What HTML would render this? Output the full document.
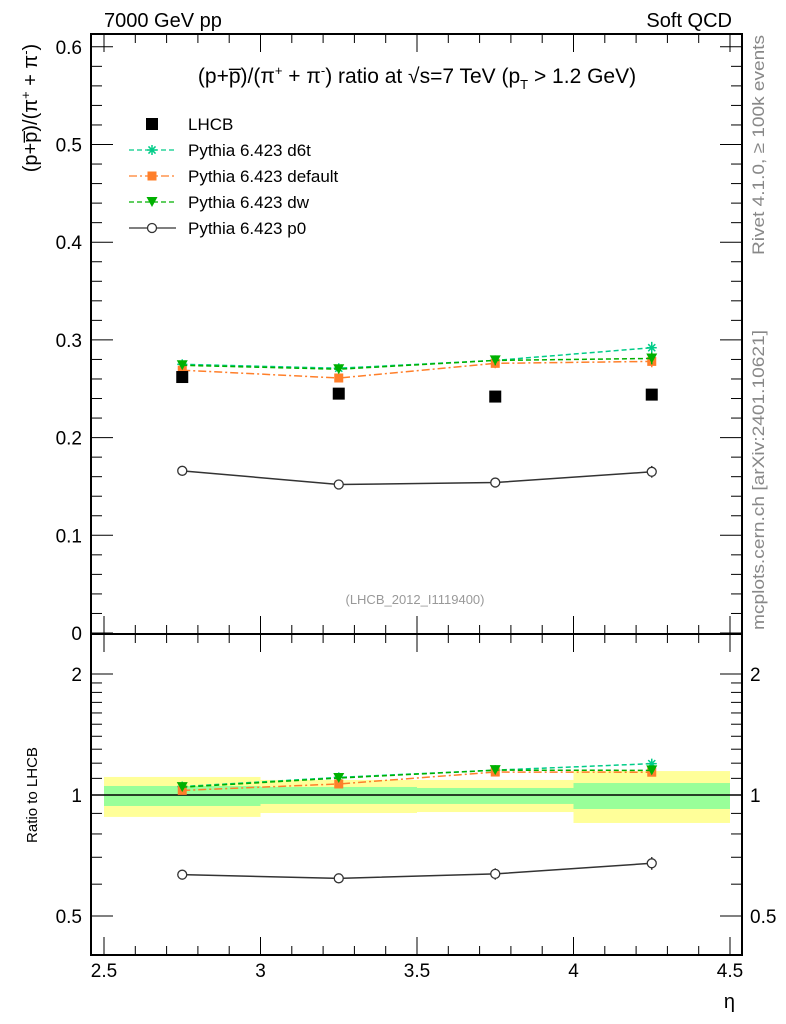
<!DOCTYPE html>
<html><head><meta charset="utf-8"><style>
body{margin:0;background:#fff}
svg{display:block;font-family:"Liberation Sans",sans-serif}
</style></head><body>
<svg id="chart" width="786" height="1024" viewBox="0 0 786 1024">
<text x="104" y="27" font-size="20">7000 GeV pp</text>
<text x="732" y="27" font-size="20" text-anchor="end">Soft QCD</text>
<text transform="translate(764,255) rotate(-90)" font-size="17" fill="#888" textLength="220" lengthAdjust="spacingAndGlyphs">Rivet 4.1.0, ≥ 100k events</text>
<text transform="translate(764,630) rotate(-90)" font-size="17" fill="#888" textLength="300" lengthAdjust="spacingAndGlyphs">mcplots.cern.ch [arXiv:2401.10621]</text>
<text x="417" y="83" font-size="21" text-anchor="middle">(p+p̅)/(π<tspan dy="-8" font-size="13">+</tspan><tspan dy="8"> + π</tspan><tspan dy="-8" font-size="13">-</tspan><tspan dy="8">) ratio at √s=7 TeV (p</tspan><tspan dy="6" font-size="13">T</tspan><tspan dy="-6"> &gt; 1.2 GeV)</tspan></text>
<text transform="translate(37,108) rotate(-90)" font-size="20" text-anchor="middle">(p+p̅)/(π<tspan dy="-7" font-size="13">+</tspan><tspan dy="7"> + π</tspan><tspan dy="-7" font-size="13">-</tspan><tspan dy="7">)</tspan></text>
<text transform="translate(37,795) rotate(-90)" font-size="15" text-anchor="middle">Ratio to LHCB</text>
<text x="735" y="1008" font-size="20" text-anchor="end">η</text>
<text x="415" y="604" font-size="13" fill="#999" text-anchor="middle">(LHCB_2012_I1119400)</text>
<g id="legend"></g>
<g id="g"></g>
</svg>
<script>
const xCenters=[2.75,3.25,3.75,4.25];
const binEdges=[2.5,3,3.5,4,4.5];
const lhcb=[0.262,0.245,0.242,0.244];
const lhcbErr=[0.002,0.002,0.002,0.002];
const d6t=[0.275,0.271,0.279,0.292];
const dflt=[0.269,0.261,0.276,0.278];
const dw=[0.274,0.270,0.279,0.281];
const p0=[0.166,0.152,0.154,0.165];
const mcErr=[0.004,0.004,0.005,0.006];
const bandYellowHi=[1.109,1.090,1.090,1.147];
const bandYellowLo=[0.882,0.902,0.907,0.852];
const bandGreenHi=[1.053,1.047,1.041,1.071];
const bandGreenLo=[0.939,0.950,0.950,0.923];
const xTicks=[2.5,3,3.5,4,4.5];
const yTicks=[0,0.1,0.2,0.3,0.4,0.5,0.6];
const rTicks=[0.5,1,2];

const NS="http://www.w3.org/2000/svg";
const g=document.getElementById('g');
const L=91,R=742,T=34,MB=634,RB=955;
const X=v=>104+(v-2.5)*313;
const Y=v=>633-v*977;
const RY=v=>795-Math.log2(v)*121;
function el(t,a,p){const e=document.createElementNS(NS,t);for(const k in a)e.setAttribute(k,a[k]);(p||g).appendChild(e);return e;}

for(let i=0;i<4;i++){
  const b1=el('rect',{x:X(binEdges[i]),width:X(binEdges[i+1])-X(binEdges[i]),y:RY(bandYellowHi[i]),height:RY(bandYellowLo[i])-RY(bandYellowHi[i]),fill:'#ffff99'});
  
  
  const b2=el('rect',{x:X(binEdges[i]),width:X(binEdges[i+1])-X(binEdges[i]),y:RY(bandGreenHi[i]),height:RY(bandGreenLo[i])-RY(bandGreenHi[i]),fill:'#99ff99'});
  
  
}
el('line',{x1:L,x2:R,y1:RY(1),y2:RY(1),stroke:'#000','stroke-width':1.5});

const f1=el('rect',{x:L,y:T,width:R-L,height:MB-T,fill:'none',stroke:'#000','stroke-width':2});


const f2=el('rect',{x:L,y:MB,width:R-L,height:RB-MB,fill:'none',stroke:'#000','stroke-width':2});



for(let v=2.5;v<=4.501;v+=0.1){
  const major=Math.abs(v*2-Math.round(v*2))<1e-6;
  const len=major?18:9, x=X(v);
  el('line',{x1:x,x2:x,y1:T,y2:T+len,stroke:'#000'});
  el('line',{x1:x,x2:x,y1:MB,y2:MB-len,stroke:'#000'});
  el('line',{x1:x,x2:x,y1:MB,y2:MB+len,stroke:'#000'});
  el('line',{x1:x,x2:x,y1:RB,y2:RB-len,stroke:'#000'});
}
xTicks.forEach(v=>{const t=el('text',{x:X(v),y:977,'font-size':19,'text-anchor':'middle'});t.textContent=String(v);

});

for(let v=0;v<=0.601;v+=0.02){
  const major=Math.abs(v*10-Math.round(v*10))<1e-6;
  const len=major?22:11,y=Y(v);
  el('line',{x1:L,x2:L+len,y1:y,y2:y,stroke:'#000'});
  el('line',{x1:R,x2:R-len,y1:y,y2:y,stroke:'#000'});
}
yTicks.forEach(v=>{const t=el('text',{x:82,y:Y(v)+7,'font-size':19,'text-anchor':'end'});t.textContent=v===0?'0':String(v);

});

const minors=[0.4,0.5,0.6,0.7,0.8,0.9,1,1.1,1.2,1.3,1.4,1.5,1.6,1.7,1.8,1.9,2];
minors.forEach(v=>{const y=RY(v);if(y<MB||y>RB)return;const major=rTicks.includes(v);const len=major?22:11;
  el('line',{x1:L,x2:L+len,y1:y,y2:y,stroke:'#000'});el('line',{x1:R,x2:R-len,y1:y,y2:y,stroke:'#000'});});
rTicks.forEach(v=>{
  const t=el('text',{x:82,y:RY(v)+7,'font-size':19,'text-anchor':'end'});t.textContent=String(v);
  
  
  const t2=el('text',{x:750,y:RY(v)+7,'font-size':19});t2.textContent=String(v);
  
  
});

function marker(type,x,y,c,p){
  if(type==='star'){for(let a=0;a<4;a++){const an=a*Math.PI/4;el('line',{x1:x-5*Math.cos(an),y1:y-5*Math.sin(an),x2:x+5*Math.cos(an),y2:y+5*Math.sin(an),stroke:c,'stroke-width':1.5},p);}}
  else if(type==='sq')el('rect',{x:x-4.5,y:y-4.5,width:9,height:9,fill:c},p);
  else if(type==='tri')el('polygon',{points:`${x-5.5},${y-5} ${x+5.5},${y-5} ${x},${y+5}`,fill:c},p);
  else if(type==='circ')el('circle',{cx:x,cy:y,r:4.5,fill:'#fff',stroke:c,'stroke-width':1.3},p);
  else if(type==='bigsq')el('rect',{x:x-6,y:y-6,width:12,height:12,fill:c},p);
}
const series=[
 {name:'d6t',vals:d6t,c:'#00cc88',dash:'5,3',m:'star'},
 {name:'default',vals:dflt,c:'#ff7f2a',dash:'8,3,2,3',m:'sq'},
 {name:'dw',vals:dw,c:'#00b000',dash:'5,3',m:'tri'},
 {name:'p0',vals:p0,c:'#333',dash:'',m:'circ'}];
series.forEach(s=>{
  const gm=el('g',{});
  const pts=xCenters.map((x,i)=>X(x)+','+Y(s.vals[i])).join(' ');
  el('polyline',{points:pts,fill:'none',stroke:s.c,'stroke-width':1.5,'stroke-dasharray':s.dash},gm);
  const rpts=xCenters.map((x,i)=>X(x)+','+RY(s.vals[i]/lhcb[i])).join(' ');
  el('polyline',{points:rpts,fill:'none',stroke:s.c,'stroke-width':1.5,'stroke-dasharray':s.dash},gm);
  xCenters.forEach((x,i)=>{
    const v=s.vals[i],e=mcErr[i];
    el('line',{x1:X(x),x2:X(x),y1:Y(v-e),y2:Y(v+e),stroke:s.c,'stroke-width':1.5},gm);
    marker(s.m,X(x),Y(v),s.c,gm);
    const r=v/lhcb[i],re=e/lhcb[i];
    el('line',{x1:X(x),x2:X(x),y1:RY(r-re),y2:RY(r+re),stroke:s.c,'stroke-width':1.5},gm);
    marker(s.m,X(x),RY(r),s.c,gm);
  });
});
xCenters.forEach((x,i)=>{const r=el('rect',{x:X(x)-6,y:Y(lhcb[i])-6,width:12,height:12,fill:'#000'});

});

const lg=document.getElementById('legend');
const items=[['LHCB','bigsq','#000',''],['Pythia 6.423 d6t','star','#00cc88','5,3'],['Pythia 6.423 default','sq','#ff7f2a','8,3,2,3'],['Pythia 6.423 dw','tri','#00b000','5,3'],['Pythia 6.423 p0','circ','#333','']];
items.forEach((it,i)=>{
  const y=124+i*26;
  const gi=el('g',{},lg);
  if(i>0)el('line',{x1:129,x2:176,y1:y,y2:y,stroke:it[2],'stroke-width':1.3,'stroke-dasharray':it[3]},gi);
  marker(it[1],152,y,it[2],gi);
  const t=el('text',{x:188,y:y+6,'font-size':17},gi);t.textContent=it[0];
});
</script>
</body></html>
